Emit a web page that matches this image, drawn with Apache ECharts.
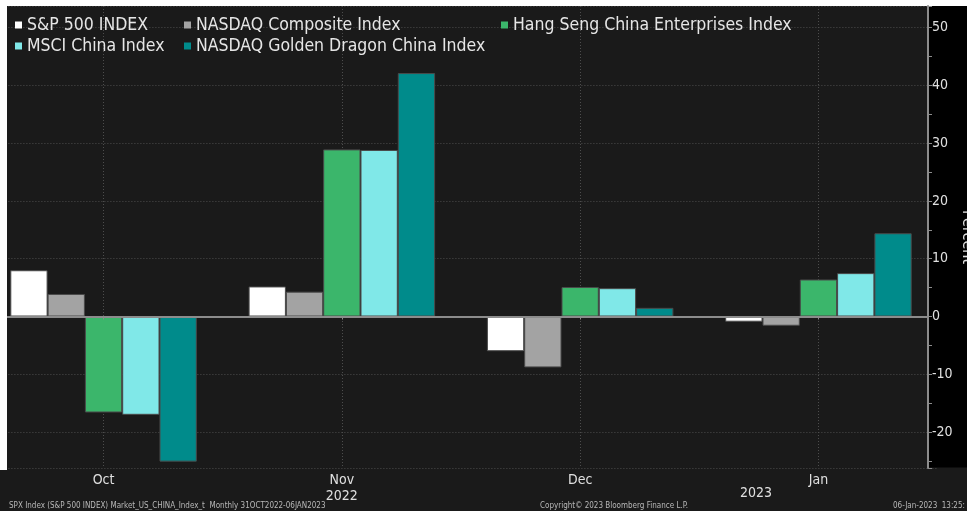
<!DOCTYPE html>
<html>
<head>
<meta charset="utf-8">
<script src="https://cdn.jsdelivr.net/npm/echarts@6/dist/echarts.min.js"></script>
<style>
html,body{margin:0;padding:0;background:#1a1a1a;}
#chart{width:967px;height:511px;}
</style>
</head>
<body>
<div id="chart"></div>
<script>
// ---- data (percent change) ----
const categories = ['Oct', 'Nov', 'Dec', 'Jan'];
const seriesNames = ['S&P 500 INDEX', 'NASDAQ Composite Index', 'Hang Seng China Enterprises Index', 'MSCI China Index', 'NASDAQ Golden Dragon China Index'];
const sp500 = [8.0, 5.2, -6.0, -0.9];
const nasdaq = [3.9, 4.3, -8.8, -1.6];
const hangSeng = [-16.6, 28.9, 5.1, 6.4];
const msciChina = [-17.0, 28.8, 4.9, 7.5];
const goldenDragon = [-25.1, 42.1, 1.5, 14.4];
const yearLabels = ['2022', '2023'];
const yMin = -26.2, yMax = 53.7;

const colors = ['#ffffff', '#a3a3a3', '#3bb66b', '#80e8e8', '#008b8b'];
const FONT = '"DejaVu Sans Condensed", "Liberation Sans Narrow", "DejaVu Sans", sans-serif';
const values = [sp500, nasdaq, hangSeng, msciChina, goldenDragon];

// helper axis: each month split in two halves, so its band edges fall on month centres
const halfCategories = categories.flatMap(c => [c + ' a', c + ' b']);

const chart = echarts.init(document.getElementById('chart'), null, {renderer: 'canvas'});

const legendPos = [
  {left: 15, top: 16}, {left: 184, top: 16}, {left: 501, top: 16},
  {left: 15, top: 37}, {left: 184, top: 37}
];

const series = seriesNames.map((name, i) => ({
  name: name,
  type: 'bar',
  data: values[i],
  barWidth: 37.3,
  barGap: '0%',
  xAxisIndex: 0,
  yAxisIndex: 0,
  z: 3,
  itemStyle: {color: colors[i], borderColor: '#4a4a4a', borderWidth: 1},
  emphasis: {disabled: true}
}));

const option = {
  backgroundColor: '#1a1a1a',
  animation: false,
  textStyle: {fontFamily: FONT},
  legend: seriesNames.map((name, i) => ({
    data: [name],
    left: legendPos[i].left, top: legendPos[i].top,
    icon: 'rect', itemWidth: 7, itemHeight: 7,
    padding: 0,
    selectedMode: false,
    itemStyle: {borderWidth: 0},
    textStyle: {color: '#e6e6e6', fontSize: 17.5, fontFamily: FONT}
  })),
  grid: {left: -15.6, right: 29.4, top: 6, bottom: 43, containLabel: false, outerBoundsMode: 'none'},
  xAxis: [
    {
      type: 'category',
      data: categories,
      axisLine: {lineStyle: {color: '#8c8c8c', width: 2}},
      axisTick: {show: true, alignWithLabel: true, length: 3, lineStyle: {color: '#8c8c8c'}},
      axisLabel: {
        color: '#e0e0e0', fontSize: 14, margin: 4, lineHeight: 16, fontFamily: FONT,
        formatter: v => v === 'Nov' ? 'Nov\n' + yearLabels[0] : v
      },
      splitLine: {show: false},
      z: 4
    },
    {
      type: 'category',
      data: halfCategories,
      position: 'bottom',
      axisLine: {show: false}, axisTick: {show: false}, axisLabel: {show: false},
      splitLine: {
        show: true,
        interval: (idx) => idx % 2 === 1,
        lineStyle: {color: '#4d4d4d', type: [1, 2], width: 1}
      },
      z: 0
    }
  ],
  yAxis: [
    {
      type: 'value', position: 'right', offset: -9.6,
      min: yMin, max: yMax, splitNumber: 8,
      axisLine: {show: false}, axisTick: {show: false}, axisLabel: {show: false},
      splitLine: {show: true, lineStyle: {color: '#4d4d4d', type: [1, 2], width: 1}},
      z: 0
    },
    {
      type: 'value', position: 'right', offset: -9.6,
      min: yMin, max: yMax, splitNumber: 8,
      name: 'Percent', nameLocation: 'middle', nameRotate: -90, nameGap: 31,
      nameMoveOverlap: false,
      nameTextStyle: {color: '#e0e0e0', fontSize: 16, fontFamily: FONT},
      axisLine: {show: true, lineStyle: {color: '#8c8c8c', width: 2}},
      axisTick: {show: true, length: 4, lineStyle: {color: '#8c8c8c'}},
      minorTick: {show: true, splitNumber: 2, length: 4, lineStyle: {color: '#8c8c8c'}},
      axisLabel: {color: '#e0e0e0', fontSize: 14, margin: 4, fontFamily: FONT, showMinLabel: false, showMaxLabel: false},
      splitLine: {show: false},
      z: 10
    }
  ],
  graphic: [
    {type: 'rect', z: 5, silent: true, shape: {x: 929, y: 6, width: 40, height: 461.5}, style: {fill: '#000000'}},
    {type: 'rect', z: 6, silent: true, shape: {x: 0, y: 0, width: 967, height: 6}, style: {fill: '#ffffff'}},
    {type: 'rect', z: 6, silent: true, shape: {x: 0, y: 0, width: 7, height: 470}, style: {fill: '#ffffff'}},
    {type: 'text', z: 6, silent: true, left: 740, top: 486, style: {text: yearLabels[1], fill: '#e0e0e0', font: '14px ' + FONT}},
    {type: 'text', z: 6, silent: true, left: 9, top: 502, style: {text: 'SPX Index (S&P 500 INDEX) Market_US_CHINA_Index_t  Monthly 31OCT2022-06JAN2023', fill: '#b8b8b8', font: '8px ' + FONT}},
    {type: 'text', z: 6, silent: true, left: 540, top: 502, style: {text: 'Copyright\u00a9 2023 Bloomberg Finance L.P.', fill: '#b8b8b8', font: '8px ' + FONT}},
    {type: 'text', z: 6, silent: true, left: 893, top: 502, style: {text: '06-Jan-2023  13:25:', fill: '#b8b8b8', font: '8px ' + FONT}}
  ],
  series: series
};
chart.setOption(option);
</script>
</body>
</html>
